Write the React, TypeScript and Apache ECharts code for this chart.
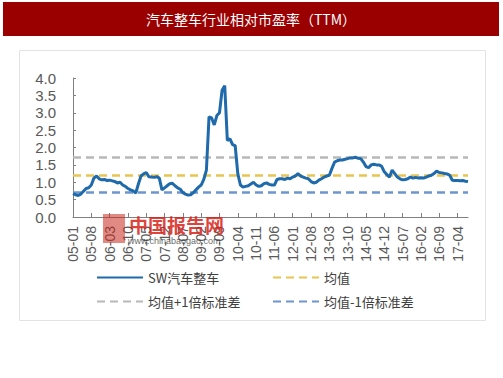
import React, { useEffect, useRef } from "react";
import * as echarts from "echarts";

const TITLE = "汽车整车行业相对市盈率（TTM）";

// monthly categories 2005-01 .. 2017-08
const categories: string[] = [];
for (let y = 5; y <= 17; y++) {
  for (let m = 1; m <= 12; m++) {
    if (y === 17 && m > 8) break;
    categories.push(`${String(y).padStart(2, "0")}-${String(m).padStart(2, "0")}`);
  }
}

const swAuto = [
  0.67, 0.64, 0.62, 0.66, 0.74, 0.82, 0.84, 0.92, 1.12, 1.18,
  1.10, 1.07, 1.08, 1.05, 1.06, 1.04, 1.02, 0.98, 1.00, 0.92,
  0.88, 0.82, 0.78, 0.75, 0.69, 0.95, 1.18, 1.24, 1.28, 1.16,
  1.15, 1.14, 1.16, 1.12, 0.78, 0.84, 0.90, 0.96, 0.97, 0.90,
  0.84, 0.80, 0.70, 0.66, 0.63, 0.64, 0.70, 0.78, 0.86, 0.92,
  1.08, 1.35, 2.88, 2.85, 2.65, 2.92, 3.00, 3.65, 3.78, 2.20,
  2.25, 2.08, 2.05, 1.25, 0.92, 0.86, 0.88, 0.90, 0.95, 1.00,
  0.92, 0.88, 0.90, 0.96, 0.98, 0.94, 0.92, 0.92, 1.08, 1.10,
  1.10, 1.08, 1.12, 1.10, 1.15, 1.18, 1.25, 1.18, 1.15, 1.12,
  1.10, 1.02, 0.98, 1.00, 1.06, 1.10, 1.15, 1.18, 1.20, 1.40,
  1.58, 1.62, 1.64, 1.64, 1.66, 1.68, 1.70, 1.70, 1.72, 1.69,
  1.68, 1.58, 1.45, 1.42, 1.50, 1.52, 1.50, 1.50, 1.46, 1.30,
  1.22, 1.15, 1.35, 1.25, 1.15, 1.10, 1.07, 1.08, 1.10, 1.15,
  1.12, 1.14, 1.12, 1.13, 1.12, 1.15, 1.18, 1.20, 1.25, 1.32,
  1.28, 1.27, 1.25, 1.24, 1.20, 1.06, 1.05, 1.05, 1.04, 1.05,
  1.03, 1.02,
];

const MEAN = 1.2;
const MEAN_PLUS = 1.71;
const MEAN_MINUS = 0.7;

const seriesNames = ["SW汽车整车", "均值", "均值+1倍标准差", "均值-1倍标准差"];
const refValues = [MEAN, MEAN_PLUS, MEAN_MINUS];
const refColors = ["#e8c552", "#b8b8b8", "#6f95cf"];

export default function App() {
  const ref = useRef<HTMLDivElement>(null);
  useEffect(() => {
    if (!ref.current) return;
    const chart = echarts.init(ref.current, undefined, { renderer: "svg" });
    const font = "'Noto Sans CJK SC', 'Liberation Sans', sans-serif";
    const numFont = "'Liberation Sans', Arial, sans-serif";
    const legendPos = [
      { left: 96, top: 271 },
      { left: 272, top: 271 },
      { left: 96, top: 295 },
      { left: 272, top: 295 },
    ];
    chart.setOption({
      animation: false,
      backgroundColor: "#ffffff",
      graphic: [
        { type: "rect", shape: { x: 3, y: 2, width: 496, height: 34 }, style: { fill: "#9b0000" } },
        {
          type: "text",
          x: 251,
          y: 19,
          style: { text: TITLE, fill: "#ffffff", font: `14px ${font}`, align: "center", verticalAlign: "middle" },
        },
        {
          type: "rect",
          shape: { x: 19.5, y: 50.5, width: 466, height: 270 },
          style: { fill: "none", stroke: "#e3e3e3", lineWidth: 1 },
          z: -1,
        },
        {
          type: "rect",
          shape: { x: 103, y: 214, width: 22, height: 29 },
          style: { fill: "rgba(200,40,30,0.55)" },
          z: 100,
        },
        {
          type: "text",
          x: 129,
          y: 224,
          style: { text: "中国报告网", fill: "rgba(215,35,25,0.85)", font: `bold 19px ${font}`, verticalAlign: "middle" },
          z: 100,
        },
        {
          type: "text",
          x: 128,
          y: 241,
          style: { text: "www.chinabaogao.com", fill: "rgba(60,60,60,0.8)", font: `9px ${numFont}`, verticalAlign: "middle" },
          z: 100,
        },
      ],
      legend: seriesNames.map((n, i) => ({
        data: [n],
        left: legendPos[i].left,
        top: legendPos[i].top,
        itemWidth: 46,
        itemHeight: 14,
        padding: 0,
        itemStyle: { opacity: 0 },
        textStyle: { color: "#404040", fontSize: 13, fontFamily: font },
      })),
      grid: { left: 73, right: 35, top: 78, bottom: 161, containLabel: false },
      xAxis: {
        type: "category",
        data: categories,
        boundaryGap: false,
        axisLine: { lineStyle: { color: "#808080", width: 1 } },
        axisTick: { interval: 6, inside: true, length: 4, lineStyle: { color: "#808080" } },
        axisLabel: {
          interval: 6,
          rotate: 90,
          color: "#595959",
          fontSize: 14,
          fontFamily: numFont,
          margin: 9,
        },
      },
      yAxis: {
        type: "value",
        min: 0,
        max: 4,
        interval: 0.5,
        axisLine: { show: true, lineStyle: { color: "#808080", width: 1 } },
        axisTick: { show: true, inside: true, length: 3, lineStyle: { color: "#808080" } },
        splitLine: { show: false },
        axisLabel: {
          color: "#595959",
          fontSize: 15,
          fontFamily: numFont,
          margin: 17,
          formatter: (v: number) => v.toFixed(1),
        },
      },
      series: [
        {
          name: seriesNames[0],
          type: "line",
          data: swAuto,
          symbol: "none",
          lineStyle: { color: "#1f6aab", width: 3 },
          itemStyle: { color: "#1f6aab" },
          z: 5,
        },
        ...refValues.map((v, i) => ({
          name: seriesNames[i + 1],
          type: "line",
          data: [],
          symbol: "none",
          lineStyle: { color: refColors[i], width: 2.5, type: [8, 5] },
          itemStyle: { color: refColors[i] },
          markLine: {
            silent: true,
            symbol: "none",
            label: { show: false },
            lineStyle: { color: refColors[i], width: 2.5, type: [8, 5] },
            data: [{ yAxis: v }],
          },
          z: 2,
        })),
      ],
    });
    return () => chart.dispose();
  }, []);
  return <div ref={ref} style={{ width: 503, height: 378, position: "absolute", left: 0, top: 0 }} />;
}
